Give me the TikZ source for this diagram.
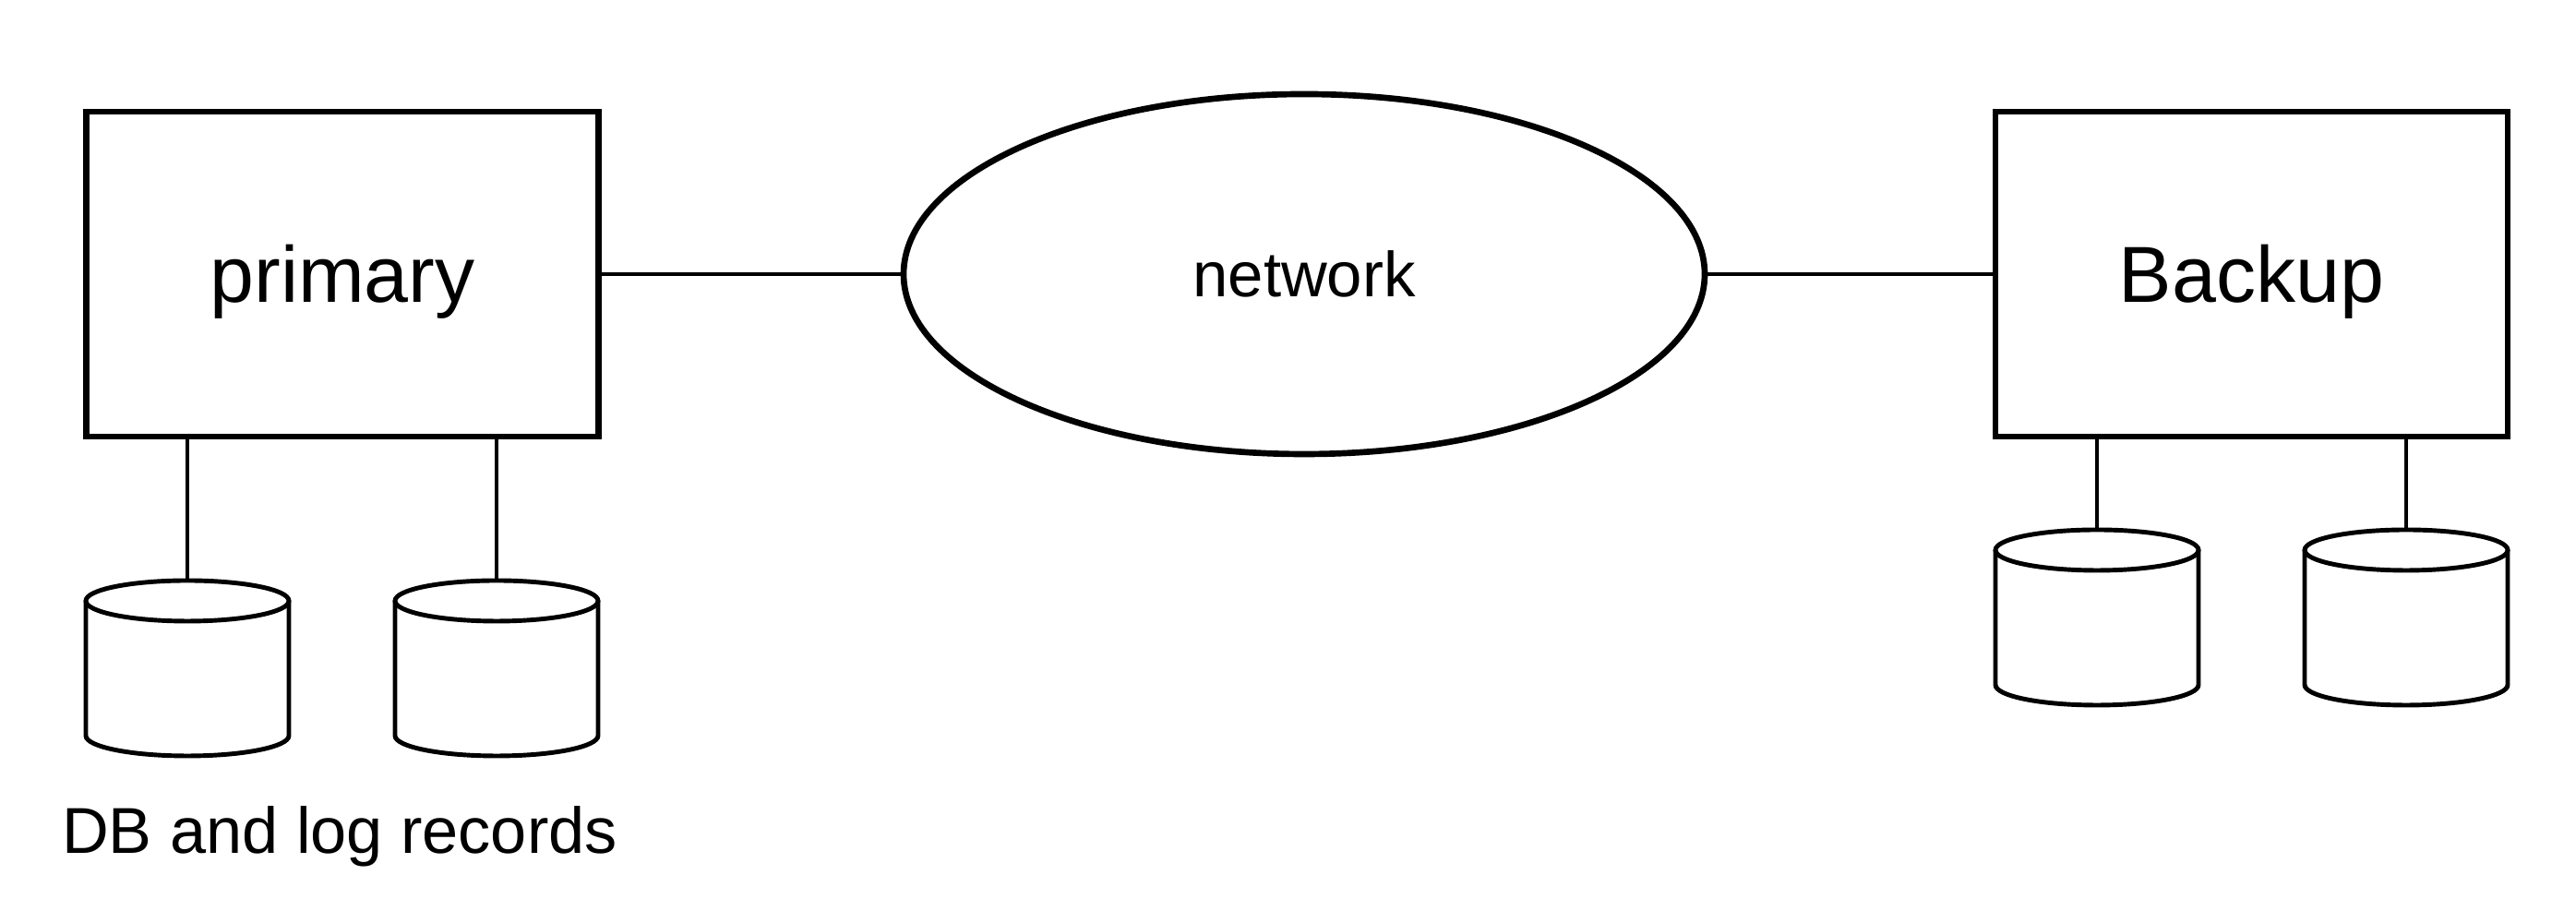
\documentclass[tikz,border=0pt]{standalone}
\usepackage{fontspec}
\setmainfont{Liberation Sans}
\usetikzlibrary{shapes.geometric, positioning, calc}

\begin{document}
\begin{tikzpicture}[
    site/.style={draw, line width=1.8pt, minimum width=5.55cm, minimum height=3.52cm,
        text height=0.62cm, text depth=0pt, font=\fontsize{24.5}{29}\selectfont},
    diskline/.style={line width=1.4pt},
    link/.style={line width=0.9pt}
]

    \useasboundingbox (0,0) rectangle (27.91,10);

    % Sites and network
    \node[site] (primary) at (3.71,7.03) {primary};
    \node[draw, ellipse, line width=1.9pt, minimum width=8.68cm, minimum height=3.9cm,
        font=\fontsize{19.6}{24}\selectfont] (net) at (14.13,7.03) {network};
    \node[site] (backup) at (24.395,7.03) {Backup};

    \draw[link] (primary) -- (net);
    \draw[link] (net) -- (backup);

    % Disks: name / centre x / centre y of the top end
    \def\rx{1.1}
    \def\ry{0.22}
    \def\len{1.46}
    \foreach \name/\x/\y in {pdb/2.03/3.49, plog/5.38/3.49, bdb/22.72/4.04, blog/26.07/4.04} {
        \draw[diskline] (\x-\rx,\y) -- (\x-\rx,\y-\len)
            arc[start angle=180, end angle=360, x radius=\rx, y radius=\ry] -- (\x+\rx,\y);
        \draw[diskline] (\x,\y) ellipse[x radius=\rx, y radius=\ry];
        \coordinate (\name) at (\x,\y+\ry);
    }

    \draw[link] (pdb) -- (pdb |- primary.south);
    \draw[link] (plog) -- (plog |- primary.south);
    \draw[link] (bdb) -- (bdb |- backup.south);
    \draw[link] (blog) -- (blog |- backup.south);

    \node[anchor=base, font=\fontsize{20}{24}\selectfont] (records) at (3.68,0.75) {DB and log records};

\end{tikzpicture}
\end{document}
